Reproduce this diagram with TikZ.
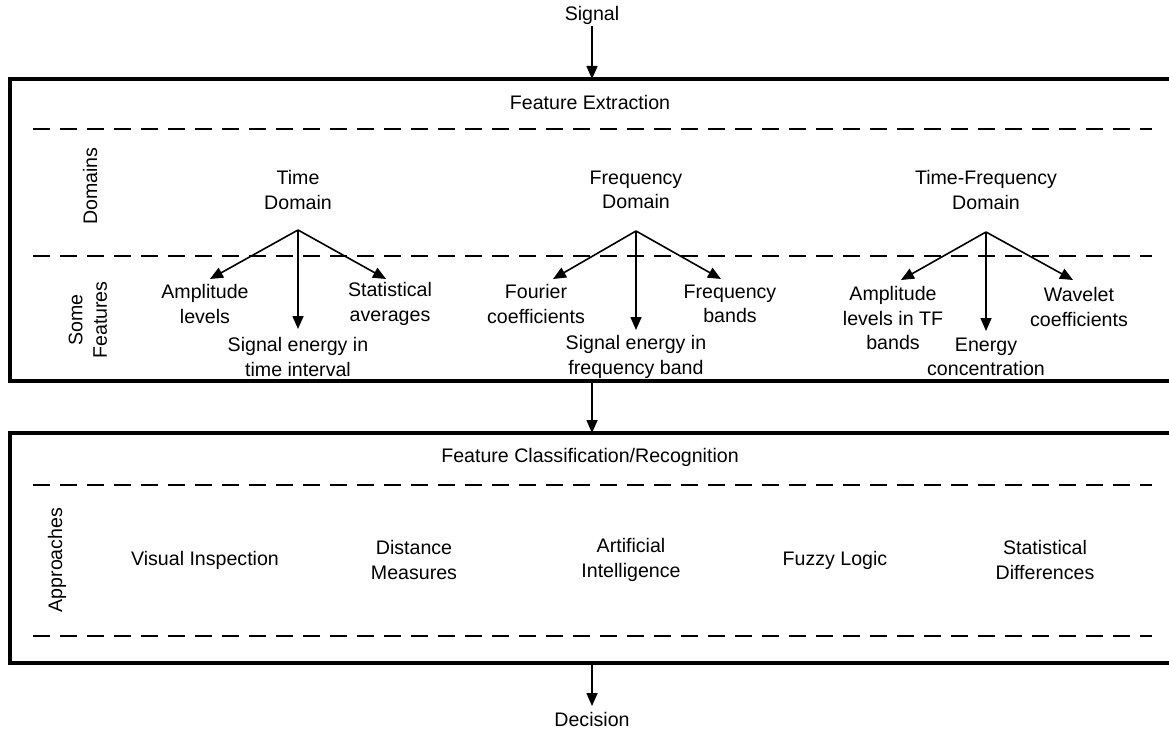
\documentclass[tikz,border=0pt]{standalone}
\usepackage{fontspec}
\setmainfont{Liberation Sans}
\usetikzlibrary{arrows.meta}
\begin{document}
\begin{tikzpicture}[x=1pt,y=-1pt,
  txt/.style={align=center,inner sep=2pt,font=\fontsize{19.6}{24.5}\selectfont},
  arr/.style={line width=1.6pt,-{Triangle[length=13pt,width=11pt]}},
  frame/.style={line width=3.6pt},
  sep/.style={line width=1.8pt,dash pattern=on 17pt off 10pt}]
\useasboundingbox (0,0) rectangle (1169,730);
% outer frames
\draw[frame] (1175,79) -- (10,79) -- (10,381) -- (1175,381);
\draw[frame] (1175,433) -- (10,433) -- (10,663) -- (1175,663);
% separators
\draw[sep] (33,129) -- (1152,129);
\draw[sep] (33,256) -- (1152,256);
\draw[sep] (33,485) -- (1152,485);
\draw[sep] (33,636) -- (1152,636);
% top/bottom
\node[txt] (signal) at (592,15) {Signal};
\node[txt] (fe) at (590,102) {Feature Extraction};
\node[txt] (fc) at (590,457) {Feature Classification/Recognition};
\node[txt] (decision) at (592,719) {Decision};
\coordinate (s1) at (592,79);
\coordinate (b1) at (592,381);
\coordinate (s2) at (592,433);
\coordinate (b2) at (592,663);
\coordinate (d1) at (592,706);
\draw[arr] (signal) -- (s1);
\draw[arr] (b1) -- (s2);
\draw[arr] (b2) -- (d1);
% side labels
\node[txt,rotate=90] (dom) at (90,186) {Domains};
\node[txt,rotate=90] (sf) at (88,320) {Some\\Features};
\node[txt,rotate=90] (app) at (57,560) {Approaches};
% time domain
\node[txt] (td) at (298,190) {Time\\Domain};
\coordinate (tb) at (298,230);
\node[txt] (ta) at (205,304) {Amplitude\\levels};
\node[txt] (ts) at (390,304) {Statistical\\averages};
\node[txt] (te) at (298,357) {Signal energy in\\time interval};
\draw[arr] (tb) -- (210,279);
\draw[arr] (tb) -- (298,329);
\draw[arr] (tb) -- (386,279);
% frequency domain
\node[txt] (fd) at (636,190) {Frequency\\Domain};
\coordinate (fb) at (636,231);
\node[txt] (ff) at (536,304) {Fourier\\coefficients};
\node[txt] (fbands) at (730,304) {Frequency\\bands};
\node[txt] (fe2) at (636,357) {Signal energy in\\frequency band};
\draw[arr] (fb) -- (553,279);
\draw[arr] (fb) -- (636,330);
\draw[arr] (fb) -- (721,279);
% time-frequency domain
\node[txt] (tfd) at (986,190) {Time-Frequency\\Domain};
\coordinate (tfb) at (986,232);
\node[txt] (tfa) at (893,318) {Amplitude\\levels in TF\\bands};
\node[txt] (tfe) at (986,357) {Energy\\concentration};
\node[txt] (tfw) at (1079,307) {Wavelet\\coefficients};
\draw[arr] (tfb) -- (901,280);
\draw[arr] (tfb) -- (986,331);
\draw[arr] (tfb) -- (1073,280);
% approaches
\node[txt] (vi) at (205,560) {Visual Inspection};
\node[txt] (dm) at (414,560) {Distance\\Measures};
\node[txt] (ai) at (631,560) {Artificial\\Intelligence};
\node[txt] (fl) at (835,560) {Fuzzy Logic};
\node[txt] (sd) at (1045,560) {Statistical\\Differences};
\end{tikzpicture}
\end{document}
